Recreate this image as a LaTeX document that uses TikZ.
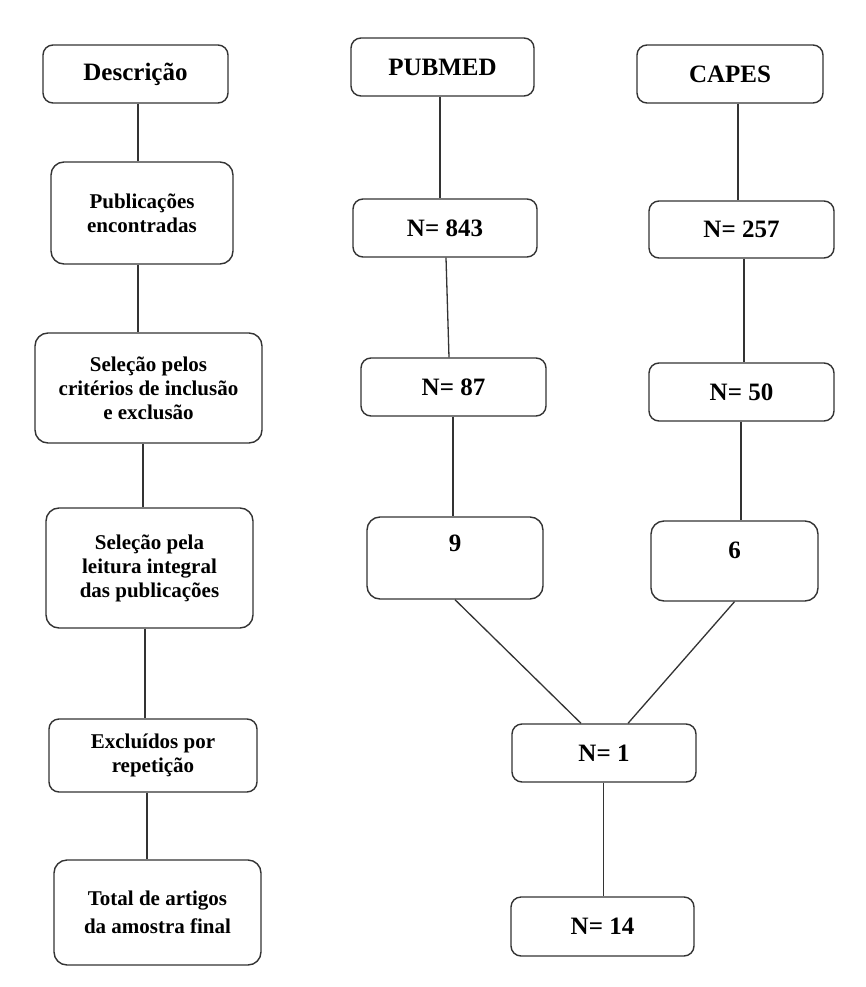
\documentclass[tikz,border=0pt]{standalone}
\usepackage{fontspec}
\setmainfont{Liberation Serif}
\begin{document}
\begin{tikzpicture}[x=1pt,y=-1pt,
  box/.style={draw=black!80, line width=1.4pt, rounded corners=10pt, inner sep=0pt, align=center, font=\bfseries\fontsize{21}{24}\selectfont},
  big/.style={font=\bfseries\fontsize{25}{28}\selectfont},
  tall/.style={rounded corners=13pt},
  link/.style={draw=black!80, line width=1.3pt}]
\useasboundingbox[fill=white] (0,0) rectangle (866,987);
% left column
\node[box,big,minimum width=185pt,minimum height=58pt] (desc) at (135.5,74) {Descrição};
\node[box,tall,minimum width=182pt,minimum height=102pt] (pub) at (142,213) {Publicações\\encontradas};
\node[box,tall,minimum width=227pt,minimum height=110pt] (sel1) at (148.5,388) {Seleção pelos\\critérios de inclusão\\e exclusão};
\node[box,tall,minimum width=207pt,minimum height=120pt] (sel2) at (149.5,568) {Seleção pela\\leitura integral\\das publicações};
\node[box,minimum width=208pt,minimum height=73pt] (exc) at (153,755.5) {Excluídos por\\repetição};
\node[box,tall,minimum width=207pt,minimum height=105pt,font=\bfseries\fontsize{21}{28}\selectfont] (tot) at (157.5,912.5) {Total de artigos\\da amostra final};
% middle column
\node[box,big,minimum width=183pt,minimum height=58pt] (pubmed) at (442.5,67) {PUBMED};
\node[box,big,minimum width=184pt,minimum height=58pt] (n843) at (445,228) {N= 843};
\node[box,big,minimum width=185pt,minimum height=58pt] (n87) at (453.5,387) {N= 87};
\node[box,big,tall,minimum width=176pt,text height=34.5pt,text depth=47.5pt] (nine) at (455,558) {9};
\node[box,big,minimum width=184pt,minimum height=58pt] (n1) at (604,753) {N= 1};
\node[box,big,minimum width=183pt,minimum height=59pt] (n14) at (602.5,926.5) {N= 14};
% right column
\node[box,big,minimum width=186pt,minimum height=58pt] (capes) at (730,74) {CAPES};
\node[box,big,minimum width=185pt,minimum height=57pt] (n257) at (741.5,229.5) {N= 257};
\node[box,big,minimum width=185pt,minimum height=58pt] (n50) at (741.5,392) {N= 50};
\node[box,big,tall,minimum width=167pt,text height=37.5pt,text depth=42.5pt] (six) at (734.5,561) {6};
% connectors
\draw[link] ([xshift=2.5pt]desc.south) -- ([xshift=2.5pt]desc.south |- pub.north);
\draw[link] ([xshift=-4pt]pub.south) -- ([xshift=-4pt]pub.south |- sel1.north);
\draw[link] ([xshift=-5.5pt]sel1.south) -- ([xshift=-5.5pt]sel1.south |- sel2.north);
\draw[link] ([xshift=-4.5pt]sel2.south) -- ([xshift=-4.5pt]sel2.south |- exc.north);
\draw[link] ([xshift=-6pt]exc.south) -- ([xshift=-6pt]exc.south |- tot.north);
\draw[link] ([xshift=-2.5pt]pubmed.south) -- ([xshift=-2.5pt]pubmed.south |- n843.north);
\draw[link] ([xshift=1pt]n843.south) -- ([xshift=-4.5pt]n87.north);
\draw[link] ([xshift=-0.5pt]n87.south) -- ([xshift=-0.5pt]n87.south |- nine.north);
\draw[link] ([xshift=8pt]capes.south) -- ([xshift=8pt]capes.south |- n257.north);
\draw[link] ([xshift=2.5pt]n257.south) -- ([xshift=2.5pt]n257.south |- n50.north);
\draw[link] ([xshift=-0.5pt]n50.south) -- ([xshift=-0.5pt]n50.south |- six.north);
\draw[link] (nine.south) -- ([xshift=-23pt]n1.north);
\draw[link] (six.south) -- ([xshift=24pt]n1.north);
\draw[link] ([xshift=-0.5pt]n1.south) -- ([xshift=-0.5pt]n1.south |- n14.north);
\end{tikzpicture}
\end{document}
